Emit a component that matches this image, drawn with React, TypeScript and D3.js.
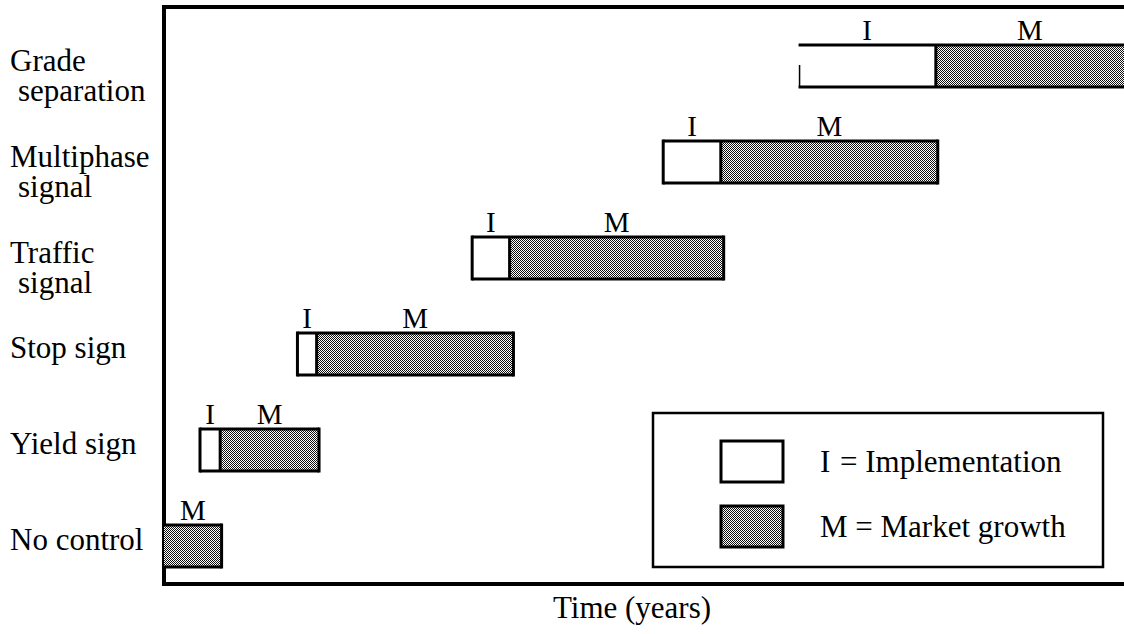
import React from "react";
import * as d3 from "d3";

// rows, top to bottom
const categories = ["Grade separation", "Multiphase signal", "Traffic signal", "Stop sign", "Yield sign", "No control"];
const labelLines = [["Grade", "separation"], ["Multiphase", "signal"], ["Traffic", "signal"], ["Stop sign"], ["Yield sign"], ["No control"]];
// time in arbitrary years (axis has no ticks)
const implStart = [66.1, 52.0, 32.1, 13.9, 3.75, 0];
const implYears = [14.3, 6.0, 3.9, 2.0, 2.1, 0];
const marketYears = [19.6, 22.6, 22.3, 20.5, 10.3, 6.0];
const timeDomain = [0, 100];
const legendItems = [
  { key: "I", text: "= Implementation", market: false },
  { key: "M", text: "M = Market growth", market: true },
];

const W = 1124;
const H = 634;
const ML = 164;
const TOP = 7;
const BOTTOM = 584;
const BAR_H = 42;
const FONT = "Liberation Serif, DejaVu Serif, Times New Roman, serif";

export default function App() {
  const x = d3.scaleLinear().domain(timeDomain).range([ML, W]);
  const y = d3.scalePoint<string>().domain(categories).range([66, 546]);

  const rows = categories.map((c, i) => {
    const s = implStart[i];
    const m = s + implYears[i];
    const e = m + marketYears[i];
    return { c, i, s, m, e, cy: y(c) as number };
  });

  const txt = { fontFamily: FONT };

  return (
    <div style={{ position: "absolute", left: 0, top: 0 }}>
      <svg width={W} height={H} style={{ display: "block", background: "#fff", fontFamily: FONT }}>
        <defs>
          <pattern id="dots" width={2} height={2} patternUnits="userSpaceOnUse">
            <rect width={2} height={2} fill="#fff" />
            <rect width={1} height={1} fill="#111" />
            <rect x={1} y={1} width={1} height={1} fill="#111" />
          </pattern>
        </defs>

        {/* frame */}
        <line x1={ML} x2={W} y1={TOP} y2={TOP} stroke="#000" strokeWidth={4} />
        <line x1={ML} x2={ML} y1={TOP - 2} y2={BOTTOM + 2} stroke="#000" strokeWidth={4} />
        <line x1={ML - 2} x2={W} y1={BOTTOM} y2={BOTTOM} stroke="#000" strokeWidth={4} />

        {/* bars */}
        {rows.map(r => {
          const top = r.cy - BAR_H / 2;
          const openLeft = r.i === 0;
          const openRight = r.e >= timeDomain[1];
          return (
            <g key={r.c}>
              {r.m > r.s && (
                <rect x={x(r.s)} y={top} width={x(r.m) - x(r.s)} height={BAR_H} fill="#fff" />
              )}
              <rect x={x(r.m)} y={top} width={x(r.e) - x(r.m)} height={BAR_H} fill="url(#dots)" />
              {/* outline */}
              <line x1={x(r.s)} x2={x(r.e)} y1={top} y2={top} stroke="#000" strokeWidth={3} />
              <line x1={x(r.s)} x2={x(r.e)} y1={top + BAR_H} y2={top + BAR_H} stroke="#000" strokeWidth={3} />
              {!openLeft && r.s > timeDomain[0] && (
                <line x1={x(r.s)} x2={x(r.s)} y1={top - 1.5} y2={top + BAR_H + 1.5} stroke="#000" strokeWidth={3} />
              )}
              {openLeft && (
                <line x1={x(r.s) + 1} x2={x(r.s) + 1} y1={top + 20} y2={top + BAR_H} stroke="#000" strokeWidth={1.5} />
              )}
              {r.m > r.s && (
                <line x1={x(r.m)} x2={x(r.m)} y1={top} y2={top + BAR_H} stroke="#000" strokeWidth={3} />
              )}
              {!openRight && (
                <line x1={x(r.e)} x2={x(r.e)} y1={top - 1.5} y2={top + BAR_H + 1.5} stroke="#000" strokeWidth={3} />
              )}
              {r.m > r.s && (
                <text style={txt} x={(x(r.s) + x(r.m)) / 2} y={top - 5} textAnchor="middle" fontSize={29}>I</text>
              )}
              <text style={txt} x={(x(r.m) + x(r.e)) / 2} y={top - 5} textAnchor="middle" fontSize={29}>M</text>
            </g>
          );
        })}

        {/* category labels */}
        {rows.map(r => {
          const lines = labelLines[r.i];
          if (lines.length === 1) {
            return <text style={txt} key={r.c} x={10} y={r.cy + 4} fontSize={31}>{lines[0]}</text>;
          }
          return (
            <g key={r.c}>
              <text style={txt} x={10} y={r.cy + 5} fontSize={31}>{lines[0]}</text>
              <text style={txt} x={18} y={r.cy + 35} fontSize={31}>{lines[1]}</text>
            </g>
          );
        })}

        {/* legend */}
        <rect x={653} y={413} width={450} height={154} fill="#fff" stroke="#000" strokeWidth={2.5} />
        {legendItems.map((d, i) => {
          const sy = 441 + i * 65;
          return (
            <g key={d.key}>
              <rect x={721} y={sy} width={62} height={41} fill={d.market ? "url(#dots)" : "#fff"} stroke="#000" strokeWidth={3} />
              {d.market ? (
                <text style={txt} x={820} y={sy + 31} fontSize={31}>{d.text}</text>
              ) : (
                <g>
                  <text style={txt} x={820} y={sy + 31} fontSize={31}>{d.key}</text>
                  <text style={txt} x={840} y={sy + 31} fontSize={31}>{d.text}</text>
                </g>
              )}
            </g>
          );
        })}

        {/* axis title */}
        <text style={txt} x={632} y={618} textAnchor="middle" fontSize={31}>Time (years)</text>
      </svg>
    </div>
  );
}
